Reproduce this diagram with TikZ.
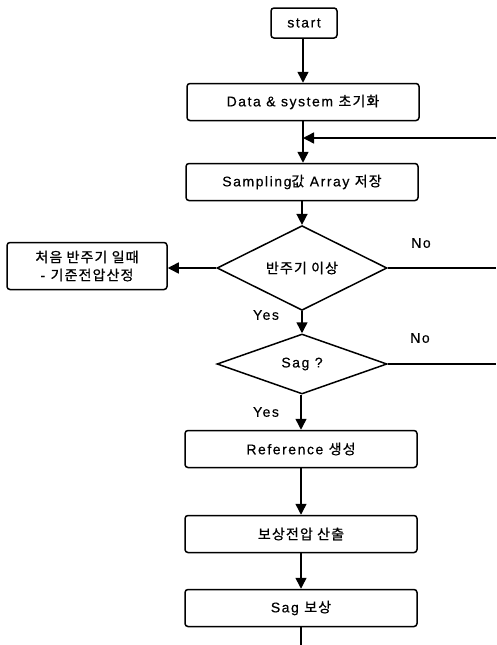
\documentclass[tikz,border=0pt]{standalone}
\usepackage{fontspec}
\setmainfont{Liberation Sans}[LetterSpace=11, FakeBold=0.4]
\newfontfamily\krfont{Noto Sans CJK KR}[LetterSpace=8, FakeBold=0.8]
\newcommand\ko[1]{{\krfont #1}}
\usetikzlibrary{shapes.geometric,arrows.meta}
\tikzset{
  base/.style={font=\fontsize{14}{17}\selectfont, line width=1.5pt, inner sep=0pt},
  procbox/.style={base, draw, rounded corners=3pt, minimum width=232pt, minimum height=37pt},
  startbox/.style={base, draw, rounded corners=3pt, minimum width=66pt, minimum height=30pt},
  sidebox/.style={base, draw, rounded corners=3pt, minimum width=160pt, minimum height=47pt, align=center},
  decision/.style={base, draw, diamond, minimum width=170pt, minimum height=60pt},
  lbl/.style={font=\fontsize{14}{17}\selectfont, inner sep=0pt},
  flow/.style={line width=1.5pt, -{Triangle[length=11pt,width=11pt]}},
  wire/.style={line width=1.5pt}
}
\begin{document}
\begin{tikzpicture}[x=1pt,y=-1pt]
  \useasboundingbox (0,0) rectangle (496,645);

  % main column
  \node[startbox] (start) at (304,23) {start};
  \node[procbox] (init) at (303,102) {Data \& system \ko{초기화}};
  \node[procbox] (sample) at (302,182) {Sampling\ko{값} Array \ko{저장}};
  \node[decision] (half) at (302,268) {\ko{반주기 이상}};
  \node[sidebox] (first) at (87,266) {\ko{처음 반주기 일때}\\[1pt]- \ko{기준전압산정}};
  \node[decision] (sag) at (302,364) {Sag ?};
  \node[procbox] (ref) at (301,449) {Reference \ko{생성}};
  \node[procbox] (comp) at (301,534) {\ko{보상전압 산출}};
  \node[procbox] (sagc) at (301,608) {Sag \ko{보상}};

  % loop-back wiring at the right edge
  \coordinate (loopin) at (496,138);
  \coordinate (merge) at (init.south |- loopin);
  \coordinate (halfout) at (496,268);
  \coordinate (sagout) at (496,364);
  \coordinate (tail) at (sagc.south |- 0,645);

  % branch labels
  \node[lbl] at (421,243) {No};
  \node[lbl] at (266,315) {Yes};
  \node[lbl] at (420,338) {No};
  \node[lbl] at (266,412) {Yes};

  % connectors (kept vertical / horizontal with perpendicular coordinates)
  \draw[flow] (init.north |- start.south) -- (init.north);
  \draw[flow] (init.south) -- (init.south |- sample.north);
  \draw[flow] (loopin) -- (merge);
  \draw[flow] (half.north |- sample.south) -- (half.north);
  \draw[flow] (half.west) -- (first.east |- half.west);
  \draw[wire] (half.east) -- (halfout);
  \draw[flow] (half.south) -- (sag.north);
  \draw[wire] (sag.east) -- (sagout);
  \draw[flow] (ref.north |- sag.south) -- (ref.north);
  \draw[flow] (ref.south) -- (comp.north);
  \draw[flow] (comp.south) -- (sagc.north);
  \draw[wire] (sagc.south) -- (tail);
\end{tikzpicture}
\end{document}
